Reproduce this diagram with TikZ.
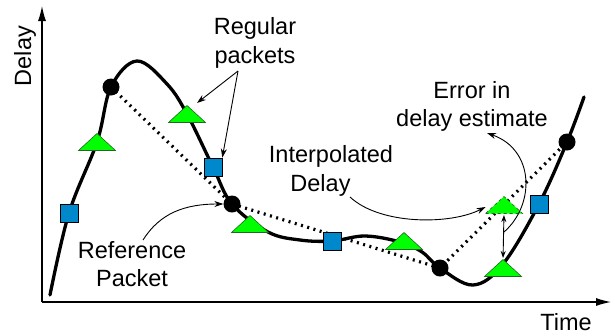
\documentclass[tikz,border=0pt]{standalone}
\usepackage{fontspec}
\setmainfont{Liberation Sans}
\usetikzlibrary{arrows.meta}
\definecolor{pktgreen}{HTML}{00FF00}
\definecolor{pktblue}{HTML}{0088CC}
\definecolor{edgegreen}{HTML}{1F6A1F}

\begin{document}
\begin{tikzpicture}[x=1pt,y=-1pt,
  txt/.style={font=\fontsize{23.5pt}{28.5pt}\selectfont, align=center, inner sep=0pt},
  axis/.style={line width=1.2pt, -{Latex[length=15pt,width=8pt]}},
  trace/.style={line width=3.3pt, line cap=round},
  interp/.style={line width=3.2pt, dash pattern=on 2pt off 4.5pt},
  refdot/.style={circle, fill=black, minimum size=17pt, inner sep=0pt},
  sqpkt/.style={draw=black, line width=0.6pt, fill=pktblue, minimum size=18pt, inner sep=0pt},
  note/.style={line width=0.9pt, -{Stealth[length=9pt,width=6pt]}},
  tri/.pic={
    \draw[line width=0.6pt, draw=edgegreen, fill=pktgreen, pic actions]
      (-18.5,8.5) -- (18.5,8.5) -- (0,-8.5) -- cycle;
    \coordinate (-apex) at (0,-8.5);
    \coordinate (-base) at (0,8.5);
    \coordinate (-left) at (-18.5,2);
  }
]
\useasboundingbox (0,0) rectangle (615,335);

% axes
\coordinate (O) at (42,302);
\coordinate (ytop) at (42,6);
\coordinate (xend) at (611,302);
\draw[axis] (O) -- (ytop);
\draw[axis] (O) -- (xend);
\node[txt, rotate=90] (ylab) at (25,56) {Delay};
\node[txt] (xlab) at (566,322) {Time};

% measured delay
\draw[trace] plot[smooth, tension=0.6] coordinates {
  (50,295) (69,213) (97,142) (111,87) (137,61) (167,84) (187,114)
  (213,167) (232,204) (268,232) (300,240) (332,241) (365,236)
  (400,242) (422,252) (440,268) (473,285) (503,264) (539,204) (567,142) (584,97)};

% reference packets
\node[refdot] (d1) at (111,87) {};
\node[refdot] (d2) at (232,204) {};
\node[refdot] (d3) at (440,268) {};
\node[refdot] (d4) at (567,142) {};

% linear interpolation between reference packets
\draw[interp] (d1.center) -- (d2.center) -- (d3.center) -- (d4.center);

% regular packets
\node[sqpkt] (s1) at (69,213) {};
\node[sqpkt] (s2) at (213,167) {};
\node[sqpkt] (s3) at (332,241) {};
\node[sqpkt] (s4) at (539,204) {};
\pic (t1) at (97,142) {tri};
\pic (t2) at (187,114) {tri};
\pic (t3) at (250,224) {tri};
\pic (t4) at (404,241) {tri};
\pic (t5) at (503,268) {tri};
\pic[dashed] (ti) at (504,205) {tri};

% labels
\node[txt] (reg) at (255,43) {Regular\\packets};
\node[txt] (err) at (472,106.5) {Error in\\delay estimate};
\node[txt] (ipl) at (331,171) {Interpolated\\Delay\hspace*{21pt}};
\node[txt] (ref) at (132,264) {Reference\\Packet};

% annotation arrows
\coordinate (regfrom) at (238,71);
\coordinate (t2hit) at (197,103);
\draw[note] (regfrom) -- (t2hit);
\draw[note] (regfrom) -- (s2.north east);
\coordinate (reffrom) at (143,240);
\draw[note] (reffrom) .. controls (160,213) and (185,204) .. (d2.west);
\coordinate (iplfrom) at (350,197);
\draw[note] (iplfrom) .. controls (380,225) and (450,225) .. (ti-left);
\draw[line width=0.9pt, shorten <=1.5pt, shorten >=1.5pt,
      {Stealth[length=7pt,width=5pt]}-{Stealth[length=7pt,width=5pt]}]
  (ti-base) -- (t5-apex);
\coordinate (errfrom) at (504,232);
\coordinate (errto) at (487,133);
\draw[note] (errfrom) .. controls (535,205) and (535,150) .. (errto);
\end{tikzpicture}
\end{document}
